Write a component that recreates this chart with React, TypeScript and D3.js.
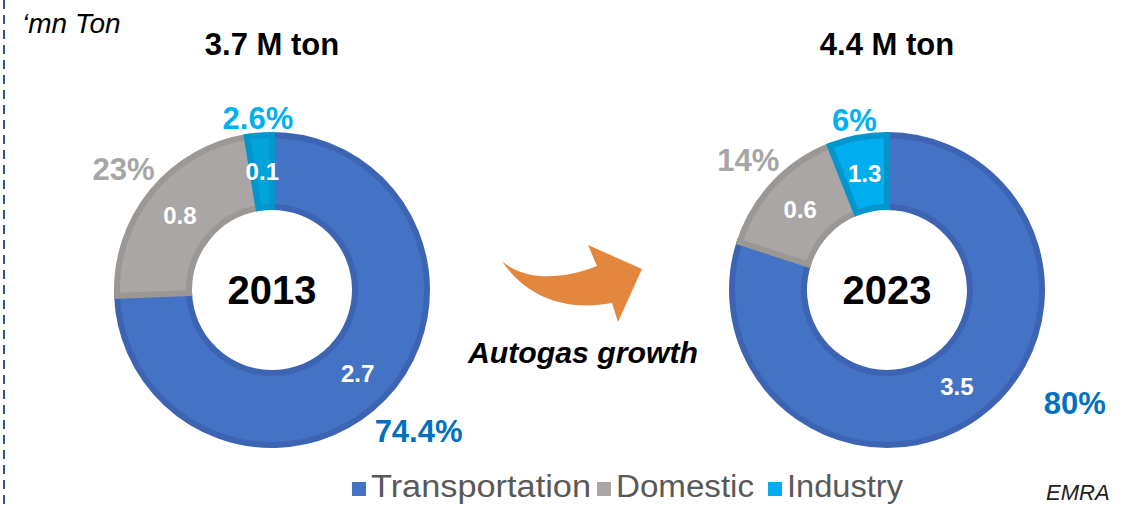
import * as d3 from 'd3'
import { useEffect } from 'react'

// data
const categories = ['Transportation', 'Domestic', 'Industry']
const years = ['2013', '2023']
const totals = ['3.7 M ton', '4.4 M ton']
const shares2013 = [74.4, 23, 2.6]
const shares2023 = [80, 14, 6]
const volumes2013 = [2.7, 0.8, 0.1]
const volumes2023 = [3.5, 0.6, 1.3]

const W = 1135
const H = 505
const FONT = '"Liberation Sans", Arial, sans-serif'

const fills = ['#4472C4', '#A9A6A5', '#00A3DA']
const fills2023 = ['#4472C4', '#A9A6A5', '#00AEEF']
const borders = ['#3D64B3', '#9A9795', '#0096CC']
const pctColors = ['#0070C0', '#A6A6A6', '#00B0F0']

type Donut = { cx: number; year: string; total: string; shares: number[]; volumes: number[]; colors: string[] }

const donuts: Donut[] = [
    { cx: 272, year: years[0], total: totals[0], shares: shares2013, volumes: volumes2013, colors: fills },
    { cx: 887, year: years[1], total: totals[1], shares: shares2023, volumes: volumes2023, colors: fills2023 },
]

const cy = 290
const rOuter = 158
const rInner = 80
const border = 6

const pie = d3.pie<number>().sort(null).value(d => d)
const ring = d3.arc<d3.PieArcDatum<number>>()
    .innerRadius(rInner + border / 2)
    .outerRadius(rOuter - border / 2)
const mid = d3.arc<d3.PieArcDatum<number>>()
    .innerRadius(rInner)
    .outerRadius(rOuter)

const pctSize = 31
const approxWidth = (s: string) => s.length * pctSize * 0.6

const DonutChart = ({ d, idx }: { d: Donut; idx: number }) => {
    const slices = pie(d.shares)
    return (
        <g>
            <text x={d.cx} y={55} textAnchor="middle" fontFamily={FONT} fontWeight="bold" fontSize={31} fill="#000">{d.total}</text>
            <g transform={`translate(${d.cx},${cy})`}>
                {slices.map((s, i) => (
                    <path key={categories[i]} d={ring(s) ?? ''} fill={d.colors[i]} stroke={borders[i]} strokeWidth={border} strokeLinejoin="miter" />
                ))}
                {slices.map((s, i) => {
                    const [x, y] = mid.centroid(s)
                    return (
                        <text key={'v' + i} x={x} y={y + 9} textAnchor="middle" fontFamily={FONT} fontWeight="bold" fontSize={24} fill="#fff">{d3.format('.1f')(d.volumes[i])}</text>
                    )
                })}
                {slices.map((s, i) => {
                    const label = d.shares[i] + '%'
                    let a = (s.startAngle + s.endAngle) / 2
                    let r = 170 + 0.5 * approxWidth(label) * Math.abs(Math.sin(a))
                    // the 2023 transport label sits lower-right of its slice
                    if (idx === 1 && i === 0) { a = (121 * Math.PI) / 180; r = 219 }
                    const x = r * Math.sin(a)
                    const y = -r * Math.cos(a)
                    return (
                        <text key={'p' + i} x={x} y={y + 11} textAnchor="middle" fontFamily={FONT} fontWeight="bold" fontSize={pctSize} fill={pctColors[i]}>{label}</text>
                    )
                })}
                <text x={0} y={14} textAnchor="middle" fontFamily={FONT} fontWeight="bold" fontSize={40} fill="#000">{d.year}</text>
            </g>
        </g>
    )
}

const App = () => {
    useEffect(() => {
        document.body.style.margin = '0'
    }, [])

    // legend layout
    const legendX = [352, 597, 768]
    const legendText = [220, 138, 116]

    return (
        <svg width={W} height={H} style={{ display: 'block', background: '#fff' }}>
            <line x1={4} y1={0} x2={4} y2={H} stroke="#2F5597" strokeWidth={2} strokeDasharray="9 6" />
            <text x={22} y={33} fontFamily={FONT} fontStyle="italic" fontSize={28} fill="#000">‘mn Ton</text>

            {donuts.map((d, i) => <DonutChart key={d.year} d={d} idx={i} />)}

            <path
                d="M502,261 C525,282 565,279 597,266 L588,245 L642,269 L618,322 L612,303 C565,312 525,296 502,261 Z"
                fill="#E3873E"
            />
            <text x={468} y={363} fontFamily={FONT} fontStyle="italic" fontWeight="bold" fontSize={29} textLength={230} lengthAdjust="spacingAndGlyphs" fill="#000">Autogas growth</text>

            {categories.map((c, i) => (
                <g key={c}>
                    <rect x={legendX[i]} y={482} width={14} height={14} fill={i === 2 ? fills2023[i] : fills[i]} />
                    <text x={legendX[i] + 19} y={497} fontFamily={FONT} fontSize={31} textLength={legendText[i]} lengthAdjust="spacingAndGlyphs" fill="#595959">{c}</text>
                </g>
            ))}

            <text x={1046} y={500} fontFamily={FONT} fontStyle="italic" fontSize={22} fill="#222">EMRA</text>
        </svg>
    )
}

export default App
